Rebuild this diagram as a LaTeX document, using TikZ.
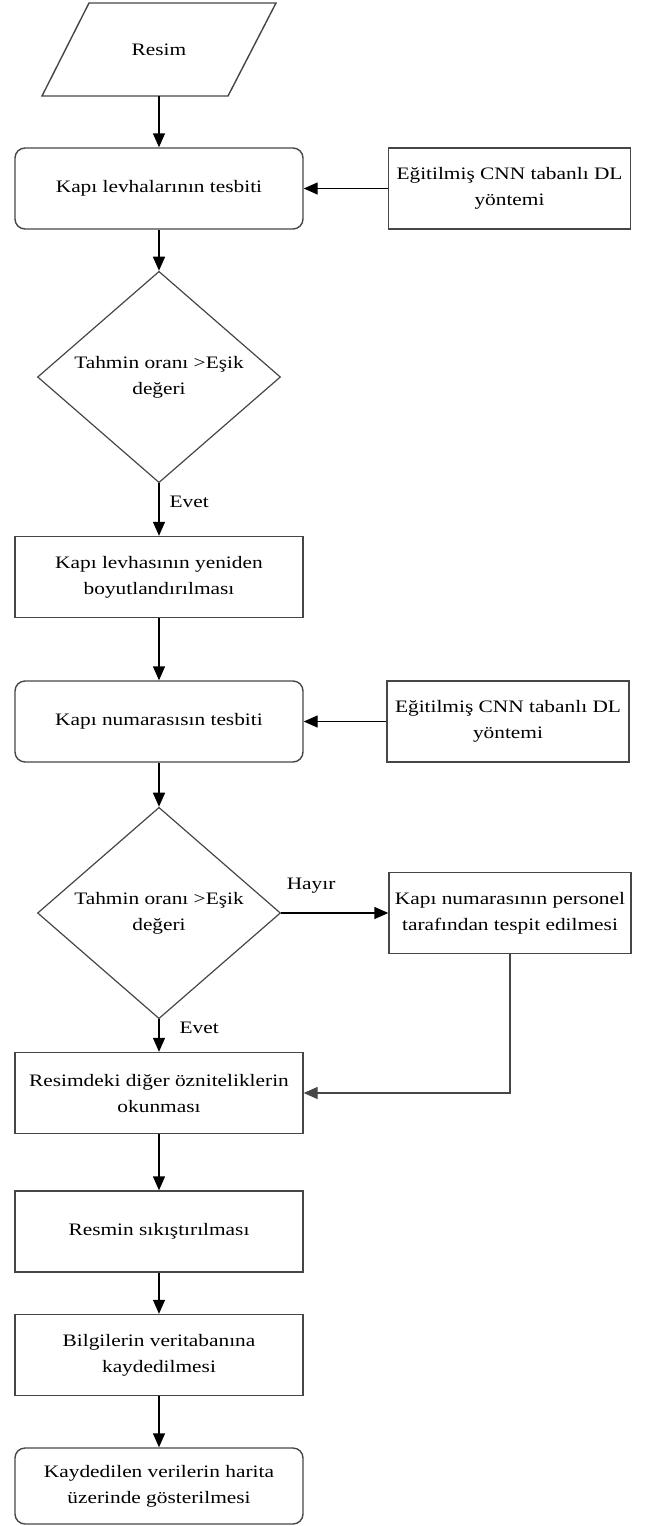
\documentclass[tikz,border=0pt]{standalone}
\usepackage{fontspec}
\setmainfont{Liberation Serif}[FakeStretch=1.22]
\usetikzlibrary{shapes.geometric,arrows.meta}
\definecolor{boxgray}{RGB}{70,70,70}
\tikzset{
  every node/.style={font=\fontsize{17.5}{26}\selectfont},
  proc/.style={draw=boxgray, line width=1.4pt, minimum width=288, minimum height=81, align=center, inner sep=0pt},
  rproc/.style={proc, rounded corners=10pt},
  side/.style={proc, minimum width=242},
  dec/.style={diamond, draw=boxgray, line width=1.2pt, minimum width=243, minimum height=200, align=center, inner sep=0pt},
  arr/.style={draw=black, line width=1.4pt, -{Triangle[length=14pt,width=12pt]}},
  lbl/.style={inner sep=0pt}
}
\begin{document}
\begin{tikzpicture}[x=1pt,y=-1pt]
\useasboundingbox (0,0) rectangle (649,1526);
% parallelogram
\draw[draw=boxgray, line width=1.4pt] (89,3) -- (276,3) -- (228,96) -- (42,96) -- cycle;
\node[lbl] (resim) at (159,50) {Resim};
\coordinate (pb) at (159,96);

\node[rproc] (b1) at (159,188.5) {Kapı levhalarının tesbiti};
\node[side] (r1) at (509.5,188.5) {Eğitilmiş CNN tabanlı DL\\yöntemi};
\node[dec] (d1) at (159,377) {Tahmin oranı >Eşik\\değeri};
\node[proc] (b2) at (159,577) {Kapı levhasının yeniden\\boyutlandırılması};
\node[rproc] (b3) at (159,721.5) {Kapı numarasısın tesbiti};
\node[side] (r2) at (508,721.5) {Eğitilmiş CNN tabanlı DL\\yöntemi};
\node[dec] (d2) at (159,913) {Tahmin oranı >Eşik\\değeri};
\node[side] (r3) at (510,913) {Kapı numarasının personel\\tarafından tespit edilmesi};
\node[proc] (b4) at (159,1093) {Resimdeki diğer özniteliklerin\\okunması};
\node[proc] (b5) at (159,1231.5) {Resmin sıkıştırılması};
\node[proc] (b6) at (159,1355) {Bilgilerin veritabanına\\kaydedilmesi};
\node[rproc, minimum height=76] (b7) at (159,1486) {Kaydedilen verilerin harita\\üzerinde gösterilmesi};

\draw[arr] (pb) -- (b1.north);
\draw[arr] (r1.west) -- (b1.east);
\draw[arr] (b1.south) -- (d1.north);
\draw[arr] (d1.south) -- node[lbl, right=10pt, pos=0.35] (e1) {Evet} (b2.north);
\draw[arr] (b2.south) -- (b3.north);
\draw[arr] (r2.west) -- (b3.east);
\draw[arr] (b3.south) -- (d2.north);
\draw[arr] (d2.east) -- node[lbl, above=19pt, pos=0.28] (h1) {Hayır} (r3.west);
\draw[arr] (d2.south) -- node[lbl, right=20pt, pos=0.25] (e2) {Evet} (b4.north);
\draw[arr, draw=boxgray] (r3.south) -- (r3.south |- b4.east) -- (b4.east);
\draw[arr] (b4.south) -- (b5.north);
\draw[arr] (b5.south) -- (b6.north);
\draw[arr] (b6.south) -- (b7.north);
\end{tikzpicture}
\end{document}
